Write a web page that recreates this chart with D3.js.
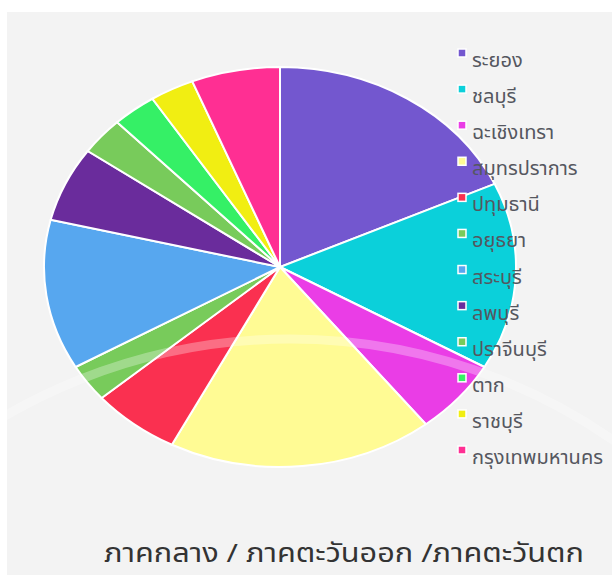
<!DOCTYPE html>
<html>
<head>
<meta charset="utf-8">
<script src="https://cdn.jsdelivr.net/npm/d3@7/dist/d3.min.js"></script>
<style>
  body { margin: 0; background: #fff; }
  svg { display: block; }
  text { font-family: "Noto Sans Thai", "Noto Sans", "DejaVu Sans", sans-serif; }
</style>
</head>
<body>
<svg id="chart" width="612" height="575"></svg>
<script>
// provinces (legend order = slice order, clockwise from 12 o'clock)
const provinces = ['ระยอง', 'ชลบุรี', 'ฉะเชิงเทรา', 'สมุทรปราการ', 'ปทุมธานี', 'อยุธยา',
  'สระบุรี', 'ลพบุรี', 'ปราจีนบุรี', 'ตาก', 'ราชบุรี', 'กรุงเทพมหานคร']
const counts = [6, 5, 2, 6, 2, 1, 4, 2, 1, 1, 1, 2]
const colors = ['#7357cf', '#0bd0da', '#ea3de6', '#fffb94', '#fa3050', '#78cb5b',
  '#57a7ef', '#6a2c9c', '#78cb5b', '#35f066', '#f1ee12', '#ff2f93']
const title = 'ภาคกลาง / ภาคตะวันออก /ภาคตะวันตก'

const data = provinces.map((p, i) => ({ name: p, value: counts[i], color: colors[i] }))

const svg = d3.select('#chart')

// panel background
svg.append('rect')
  .attr('x', 7).attr('y', 12)
  .attr('width', 605).attr('height', 563)
  .attr('fill', '#f3f3f3')

const cx = 280, cy = 267, r = 200, stretch = 1.18

const pie = d3.pie().sort(null).value(d => d.value)
const arc = d3.arc().innerRadius(0).outerRadius(r)

const g = svg.append('g')
  .attr('transform', `translate(${cx},${cy}) scale(${stretch},1)`)

g.selectAll('path')
  .data(pie(data))
  .enter()
  .append('path')
  .attr('d', arc)
  .attr('fill', d => d.data.color)
  .attr('stroke', '#fff')
  .attr('stroke-width', 2)
  .attr('vector-effect', 'non-scaling-stroke')

// faint watermark ring
svg.append('circle')
  .attr('cx', 290).attr('cy', 905).attr('r', 566)
  .attr('fill', 'none')
  .attr('stroke', '#fff')
  .attr('stroke-opacity', 0.3)
  .attr('stroke-width', 9)

// legend
const legend = svg.append('g')
const y = d3.scaleLinear().domain([0, provinces.length - 1]).range([53, 450])

const item = legend.selectAll('g')
  .data(data)
  .enter()
  .append('g')
  .attr('transform', (d, i) => `translate(462,${y(i)})`)

item.append('rect')
  .attr('x', -4).attr('y', -4)
  .attr('width', 8).attr('height', 8)
  .attr('fill', d => d.color)
  .attr('stroke', '#fff')
  .attr('stroke-width', 1.5)

item.append('text')
  .attr('x', 10)
  .attr('y', 14)
  .attr('font-size', 20)
  .attr('fill', '#55575f')
  .text(d => d.name)

// bottom title
svg.append('text')
  .attr('x', 104)
  .attr('y', 562)
  .attr('font-size', 26)
  .attr('textLength', 480)
  .attr('lengthAdjust', 'spacingAndGlyphs')
  .attr('fill', '#333')
  .text(title)
</script>
</body>
</html>
